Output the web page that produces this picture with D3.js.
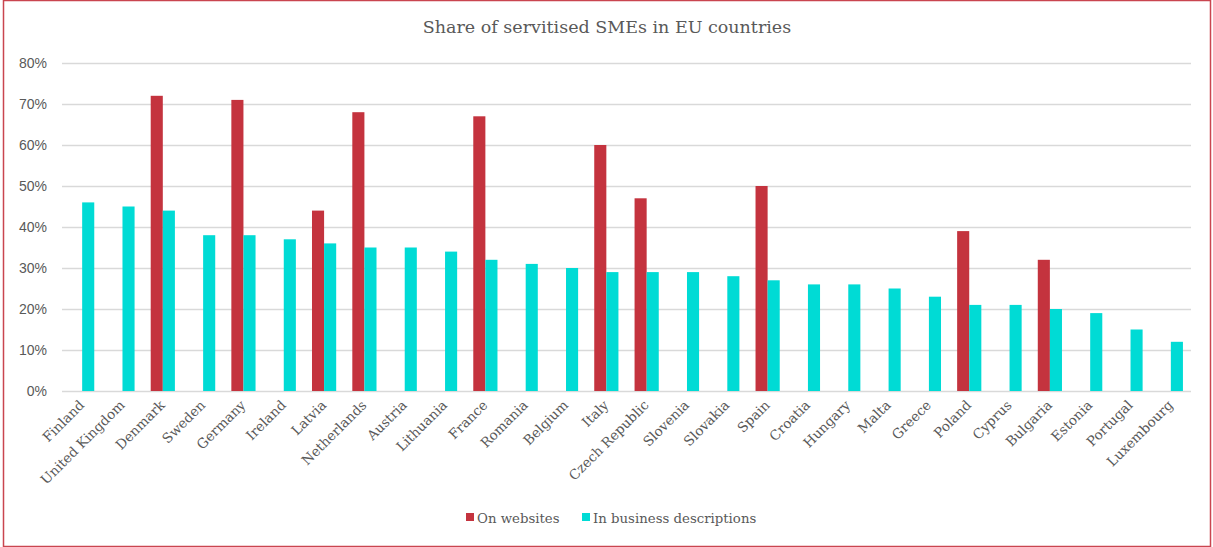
<!DOCTYPE html>
<html>
<head>
<meta charset="utf-8">
<script src="https://cdn.jsdelivr.net/npm/d3@7"></script>
<style>
  html, body { margin: 0; padding: 0; background: #fff; }
  svg { display: block; }
</style>
</head>
<body>
<svg id="chart" width="1213" height="547"></svg>
<script>
// Countries, ordered by share found in business descriptions
const countries = ["Finland", "United Kingdom", "Denmark", "Sweden", "Germany", "Ireland", "Latvia",
  "Netherlands", "Austria", "Lithuania", "France", "Romania", "Belgium", "Italy", "Czech Republic",
  "Slovenia", "Slovakia", "Spain", "Croatia", "Hungary", "Malta", "Greece", "Poland", "Cyprus",
  "Bulgaria", "Estonia", "Portugal", "Luxembourg"];

// Share (%) of servitised SMEs detected on websites (only some countries)
const onWebsites = [null, null, 72, null, 71, null, 44, 68, null, null, 67, null, null, 60, 47,
  null, null, 50, null, null, null, null, 39, null, 32, null, null, null];

// Share (%) of servitised SMEs detected in business descriptions
const inDescriptions = [46, 45, 44, 38, 38, 37, 36, 35, 35, 34, 32, 31, 30, 29, 29,
  29, 28, 27, 26, 26, 25, 23, 21, 21, 20, 19, 15, 12];

const seriesNames = ["On websites", "In business descriptions"];
const seriesColors = ["#c4333e", "#00dbd5"];
const yTicks = [0, 10, 20, 30, 40, 50, 60, 70, 80];
const title = "Share of servitised SMEs in EU countries";

const svg = d3.select("#chart");
const W = 1213, H = 547;
const plot = { left: 62, right: 1191, top: 63, bottom: 391 };
const serif = "'DejaVu Serif', Georgia, serif";

// frame
svg.append("rect")
  .attr("x", 3.5).attr("y", 0.5)
  .attr("width", W - 6).attr("height", H - 1)
  .attr("fill", "#fff")
  .attr("stroke", "#c9454f").attr("stroke-width", 1.5);

const x0 = d3.scaleBand().domain(countries)
  .range([plot.left, plot.right]).paddingInner(0.4).paddingOuter(0.2);
const x1 = d3.scaleBand().domain(seriesNames).range([0, x0.bandwidth()]);
const y = d3.scaleLinear().domain([0, 80]).range([plot.bottom, plot.top]);

// gridlines + y labels
const yAxis = d3.axisLeft(y).tickValues(yTicks).tickFormat(d => d + "%")
  .tickSize(-(plot.right - plot.left)).tickPadding(15);
const gy = svg.append("g").attr("transform", `translate(${plot.left},0)`).call(yAxis);
gy.select(".domain").remove();
gy.selectAll(".tick line").attr("stroke", "#d9d9d9").attr("stroke-width", 1.3);
gy.selectAll(".tick text")
  .attr("fill", "#595959")
  .style("font-family", "'Liberation Sans', Arial, sans-serif")
  .style("font-size", "14px");

// bars
const rows = countries.map((c, i) => ({ c, vals: [onWebsites[i], inDescriptions[i]] }));
const groups = svg.append("g").selectAll("g").data(rows).join("g")
  .attr("transform", d => `translate(${x0(d.c)},0)`);
groups.selectAll("rect")
  .data(d => d.vals.map((v, k) => ({ v, k })).filter(e => e.v != null))
  .join("rect")
  .attr("x", e => x1(seriesNames[e.k]))
  .attr("width", x1.bandwidth())
  .attr("y", e => y(e.v))
  .attr("height", e => y(0) - y(e.v))
  .attr("fill", e => seriesColors[e.k]);

// x labels, rotated
const xAxis = d3.axisBottom(x0).tickSize(0).tickPadding(0);
const gx = svg.append("g").attr("transform", `translate(0,${plot.bottom})`).call(xAxis);
gx.select(".domain").remove();
gx.selectAll(".tick text")
  .attr("fill", "#595959")
  .attr("text-anchor", "end")
  .attr("dy", "0")
  .attr("transform", "translate(3,15) rotate(-45)")
  .style("font-family", serif)
  .style("font-size", "13.5px");

// title
svg.append("text")
  .attr("x", 607).attr("y", 33)
  .attr("text-anchor", "middle")
  .attr("fill", "#595959")
  .style("font-family", serif)
  .style("font-size", "17.5px")
  .text(title);

// legend
const legend = svg.append("g").attr("transform", "translate(466,519)");
const legendX = [0, 116];
seriesNames.forEach((name, k) => {
  const g = legend.append("g").attr("transform", `translate(${legendX[k]},0)`);
  g.append("rect").attr("x", 0).attr("y", -6).attr("width", 8).attr("height", 8)
    .attr("fill", seriesColors[k]);
  g.append("text").attr("x", 11).attr("y", 0).attr("dy", "0.32em")
    .attr("fill", "#595959")
    .style("font-family", serif)
    .style("font-size", "13.3px")
    .text(name);
});
</script>
</body>
</html>
